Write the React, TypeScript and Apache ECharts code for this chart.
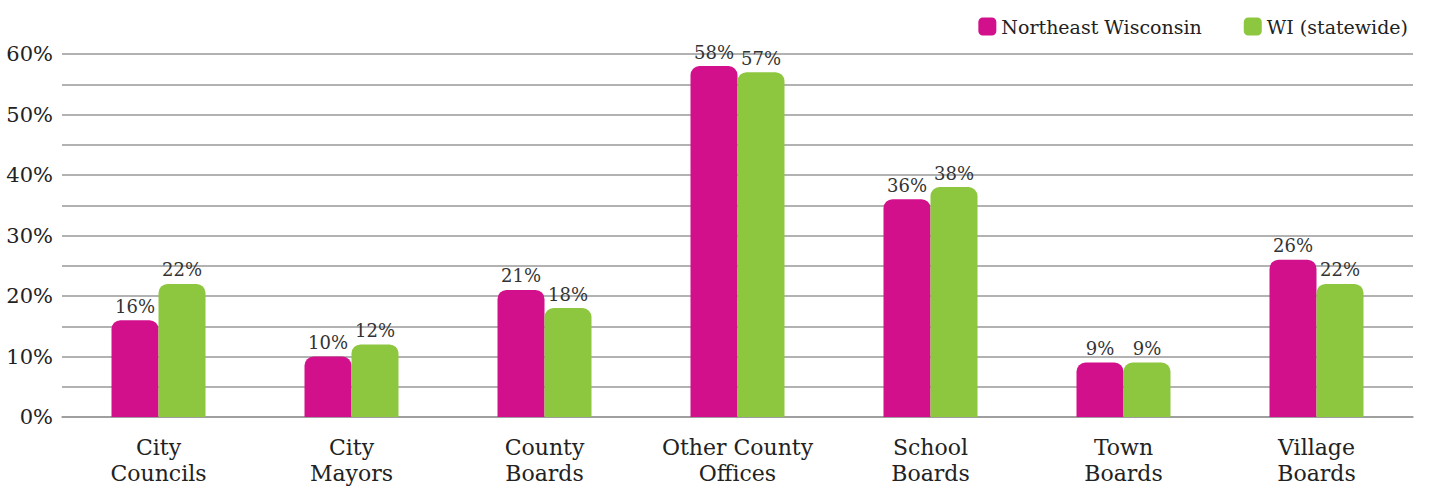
import React, { useEffect, useRef } from "react";
import * as echarts from "echarts";

const categories = [
  "City\nCouncils",
  "City\nMayors",
  "County\nBoards",
  "Other County\nOffices",
  "School\nBoards",
  "Town\nBoards",
  "Village\nBoards",
];
const northeast = [16, 10, 21, 58, 36, 9, 26];
const statewide = [22, 12, 18, 57, 38, 9, 22];
const seriesNames = ["Northeast Wisconsin", "WI (statewide)"];

const FONT = "DejaVu Serif";

export default function App() {
  const ref = useRef<HTMLDivElement>(null);
  useEffect(() => {
    document.body.style.margin = "0";
    const chart = echarts.init(ref.current!, null, { renderer: "svg" });
    const label = {
      show: true,
      position: "top" as const,
      distance: 5,
      formatter: "{c}%",
      color: "#333",
      fontFamily: FONT,
      fontSize: 18,
    };
    chart.setOption({
      animation: false,
      textStyle: { fontFamily: FONT },
      legend: {
        right: 17,
        top: 12,
        itemWidth: 18,
        itemHeight: 18,
        itemGap: 42,
        icon: "roundRect",
        textStyle: { fontFamily: FONT, fontSize: 19, color: "#222" },
        data: seriesNames,
      },
      grid: { left: 62, right: 17, top: 54, bottom: 70, containLabel: false },
      xAxis: {
        type: "category",
        data: categories,
        axisLine: { show: true, lineStyle: { color: "#999", width: 1.5 } },
        axisTick: { show: false },
        axisLabel: {
          interval: 0,
          margin: 17,
          fontFamily: FONT,
          fontSize: 22,
          lineHeight: 26,
          color: "#222",
        },
      },
      yAxis: {
        type: "value",
        min: 0,
        max: 60,
        interval: 5,
        axisLine: { show: false },
        axisTick: { show: false },
        splitLine: { lineStyle: { color: "#999", width: 1.5 } },
        axisLabel: {
          margin: 9,
          fontFamily: FONT,
          fontSize: 21,
          color: "#222",
          formatter: (v: number) => (v % 10 === 0 ? v + "%" : ""),
        },
      },
      series: [
        {
          name: seriesNames[0],
          type: "bar",
          data: northeast,
          barWidth: 47,
          barGap: "0%",
          itemStyle: { color: "#D3108C", borderRadius: [9, 9, 0, 0] },
          label,
        },
        {
          name: seriesNames[1],
          type: "bar",
          data: statewide,
          barWidth: 47,
          barGap: "0%",
          itemStyle: { color: "#8DC63F", borderRadius: [9, 9, 0, 0] },
          label,
        },
      ],
    });
    return () => chart.dispose();
  }, []);
  return <div ref={ref} style={{ width: 1430, height: 487 }} />;
}
